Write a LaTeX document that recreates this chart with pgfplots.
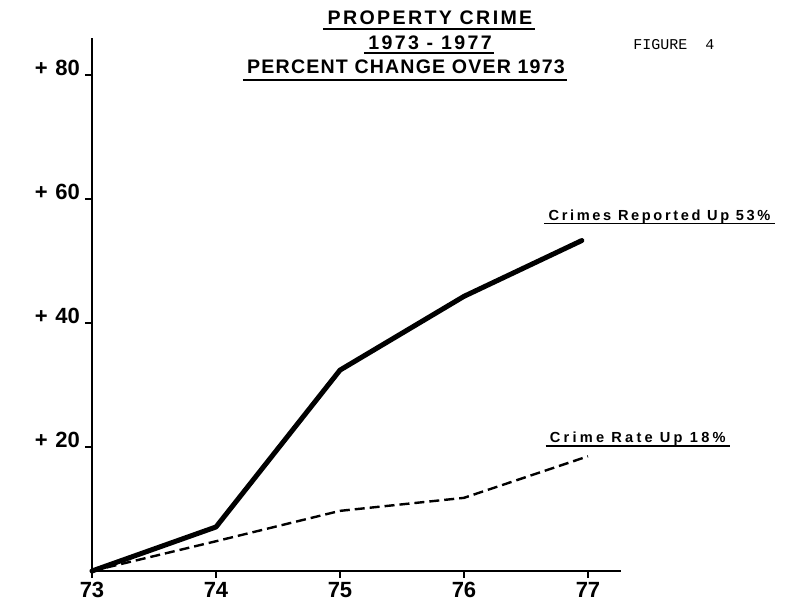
\documentclass[border=0pt]{standalone}
\usepackage{pgfplots}
\pgfplotsset{compat=1.18}
\usepackage{fontspec}
\setmainfont{Liberation Sans}
\newfontfamily\titlefont[LetterSpace=12]{Liberation Sans}
\newfontfamily\titlefontb[LetterSpace=6]{Liberation Sans}
\newfontfamily\annfont[LetterSpace=18]{Liberation Sans}
\newfontfamily\annfontb[LetterSpace=22]{Liberation Sans}
\newfontfamily\typefont{Liberation Mono}
\begin{document}
\begin{tikzpicture}
\path[use as bounding box] (0,0) rectangle (396.5pt,300pt);
% titles
\node[font=\titlefont\bfseries\fontsize{9.8}{11}\selectfont, inner sep=0pt] (t1) at (215pt,291pt) {PROPERTY CRIME};
\draw[line width=1pt] ([xshift=-2pt]t1.west |- 0,285.5pt) -- ([xshift=1pt]t1.east |- 0,285.5pt);
\node[font=\titlefont\bfseries\fontsize{9.8}{11}\selectfont, inner sep=0pt] (t2) at (215pt,278.5pt) {1973 - 1977};
\draw[line width=1pt] ([xshift=-2pt]t2.west |- 0,273.5pt) -- ([xshift=1pt]t2.east |- 0,273.5pt);
\node[font=\titlefontb\bfseries\fontsize{9.8}{11}\selectfont, inner sep=0pt] (t3) at (203pt,266.5pt) {PERCENT CHANGE OVER 1973};
\draw[line width=1pt] ([xshift=-2pt]t3.west |- 0,260pt) -- ([xshift=1pt]t3.east |- 0,260pt);
\node[font=\typefont\fontsize{7.5}{9}\selectfont, inner sep=0pt, anchor=base west] at (316.5pt,275pt) {FIGURE\ \ 4};
\begin{axis}[
  at={(46pt,14.5pt)}, anchor=south west,
  scale only axis,
  x=62pt, y=3.1pt,
  xmin=73, xmax=77.27, ymin=0, ymax=86,
  axis lines=left,
  axis line style={line width=1pt, -},
  xtick={73,74,75,76,77}, ytick={20,40,60,80},
  tick align=outside, major tick length=3.5pt,
  tick style={line width=0.8pt, black},
  /pgf/number format/assume math mode=true,
  xticklabel style={font=\bfseries\fontsize{11}{12}\selectfont, yshift=1.5pt},
  yticklabel={\bfseries +\hspace{0.35em}\pgfmathprintnumber{\tick}},
  yticklabel style={font=\fontsize{11}{12}\selectfont, anchor=base east, yshift=-0.5pt, xshift=1pt},
  clip=false,
]
\addplot[line width=2.5pt, line join=round, line cap=round] coordinates {(73,0)(74,7.1)(75,32.4)(76,44.3)(76.95,53.3)};
\addplot[line width=1.2pt, dash pattern=on 5pt off 2.5pt] coordinates {(73,0)(74,4.8)(75,9.7)(76,11.8)(77,18.5)};
\node[font=\annfont\bfseries\fontsize{7.3}{9}\selectfont, inner sep=0pt, anchor=base west] (a1) at (axis cs:76.68,56.6) {Crimes Reported Up 53\%};
\draw[line width=0.8pt] ([xshift=-2pt,yshift=-1.8pt]a1.base west) -- ([xshift=2pt,yshift=-1.8pt]a1.base east);
\node[font=\annfontb\bfseries\fontsize{7.3}{9}\selectfont, inner sep=0pt, anchor=base west] (a2) at (axis cs:76.69,20.7) {Crime Rate Up 18\%};
\draw[line width=0.8pt] ([xshift=-2pt,yshift=-1.8pt]a2.base west) -- ([xshift=2pt,yshift=-1.8pt]a2.base east);
\end{axis}
\end{tikzpicture}
\end{document}
